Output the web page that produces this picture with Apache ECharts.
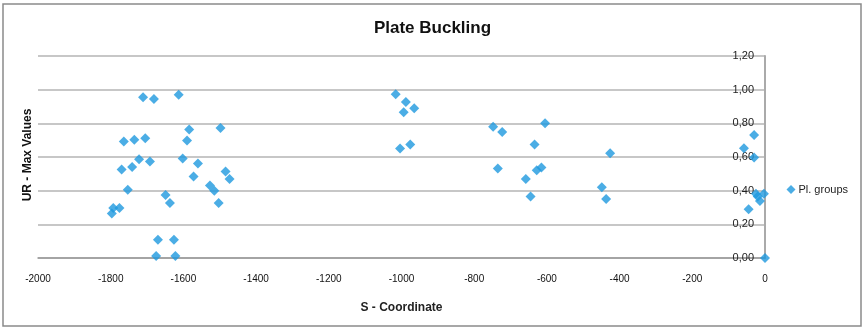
<!DOCTYPE html>
<html>
<head>
<meta charset="utf-8">
<script src="https://cdn.jsdelivr.net/npm/echarts@6/dist/echarts.min.js"></script>
<style>
html,body{margin:0;padding:0;background:#fff;}
#c{width:865px;height:329px;}
</style>
</head>
<body>
<div id="c"></div>
<script>
const seriesName = 'Pl. groups';
const xValues = [
  -1711,-1681,-1613,-1584,-1498,-1764,-1735,-1705,-1590,-1722,-1692,-1602,-1560,-1770,-1741,-1484,
  -1473,-1572,-1753,-1527,-1515,-1649,-1637,-1503,-1793,-1776,-1797,-1670,-1626,-1675,-1622,
  -1016,-988,-965,-994,-976,-1004,
  -748,-723,-605,-634,-735,-615,-628,-658,-645,
  -426,-449,-437,
  -30,-58,-30,-25,-14,-20,-3,-45,0
];
const yValues = [
  0.955,0.945,0.970,0.763,0.773,0.692,0.702,0.712,0.698,0.587,0.573,0.591,0.561,0.526,0.540,0.514,
  0.469,0.484,0.405,0.431,0.399,0.375,0.326,0.326,0.297,0.297,0.265,0.109,0.109,0.012,0.012,
  0.973,0.927,0.890,0.866,0.674,0.650,
  0.779,0.749,0.801,0.674,0.531,0.537,0.522,0.469,0.365,
  0.623,0.421,0.350,
  0.731,0.652,0.597,0.381,0.338,0.365,0.381,0.290,0
];
const titleText = 'Plate Buckling';
const xName = 'S - Coordinate';
const yName = 'UR - Max Values';

const points = xValues.map((x, i) => [x, yValues[i]]);
const font = '"Liberation Sans", Arial, sans-serif';

const chart = echarts.init(document.getElementById('c'), null, {renderer: 'canvas'});
chart.setOption({
  animation: false,
  backgroundColor: '#fff',
  title: {
    text: titleText, left: 'center', top: 15,
    textStyle: {fontFamily: font, fontSize: 17, fontWeight: 'bold', color: '#111'}
  },
  legend: {
    right: 12, top: 179, icon: 'diamond', itemWidth: 9, itemHeight: 9, itemGap: 4,
    data: [seriesName],
    textStyle: {fontFamily: font, fontSize: 11, color: '#222', padding: [0,0,0,-2]}
  },
  grid: {left: 38, right: 100, top: 56, bottom: 71, containLabel: false},
  xAxis: {
    type: 'value', min: -2000, max: 0, interval: 200,
    name: xName, nameLocation: 'middle', nameGap: 44,
    nameTextStyle: {fontFamily: font, fontSize: 12, fontWeight: 'bold', color: '#222'},
    axisLine: {show: true, onZero: false, lineStyle: {color: '#999', width: 1.5}},
    axisTick: {show: false},
    splitLine: {show: false},
    axisLabel: {fontFamily: font, fontSize: 10, color: '#111', margin: 16, formatter: v => String(v)}
  },
  yAxis: {
    type: 'value', min: 0, max: 1.2, interval: 0.2, position: 'right',
    axisLine: {show: true, lineStyle: {color: '#aaa', width: 2}},
    axisTick: {show: false},
    splitLine: {show: true, lineStyle: {color: '#b4b4b4', width: 1.5}},
    axisLabel: {inside: true, margin: 11, fontFamily: font, fontSize: 11, color: '#222',
      formatter: v => v.toFixed(2).replace('.', ',')}
  },
  graphic: [
    {type: 'rect', shape: {x: 3, y: 4, width: 858, height: 322}, style: {fill: 'none', stroke: '#8a8a8a', lineWidth: 1.5}, silent: true, z: -1},
    {type: 'text', x: 28, y: 155, rotation: Math.PI / 2,
      style: {text: yName, fontFamily: font, fontSize: 12, fontWeight: 'bold', fill: '#111', align: 'center', verticalAlign: 'middle'}}
  ],
  series: [{
    name: seriesName, type: 'scatter', data: points,
    symbol: 'diamond', symbolSize: 10,
    itemStyle: {color: '#1e98de'}
  }]
});
</script>
</body>
</html>
